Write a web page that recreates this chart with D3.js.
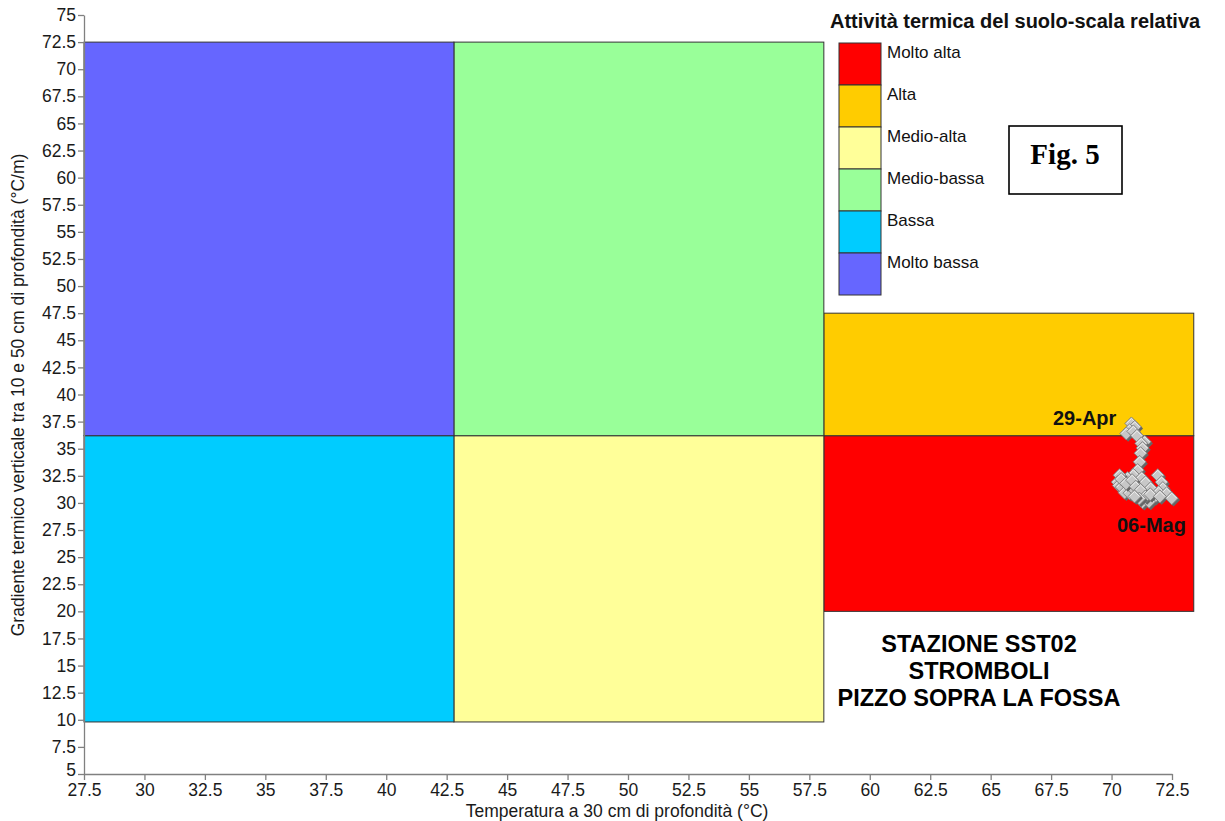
<!DOCTYPE html>
<html>
<head>
<meta charset="utf-8">
<script src="https://cdn.jsdelivr.net/npm/d3@7"></script>
<style>
  html, body { margin: 0; padding: 0; background: #ffffff; }
  svg { display: block; font-family: "Liberation Sans", Arial, sans-serif; }
</style>
</head>
<body>
<svg id="chart" width="1225" height="821"></svg>
<script>
// Activity zones (temperature range x gradient range)
const zoneNames  = ["Molto alta", "Alta", "Medio-alta", "Medio-bassa", "Bassa", "Molto bassa"];
const zoneColors = ["#FF0000", "#FFCC00", "#FFFF99", "#99FF99", "#00CCFF", "#6666FF"];
const zoneTempMin = [58.1, 58.1, 42.8, 42.8, 27.5, 27.5];
const zoneTempMax = [73.4, 73.4, 58.1, 58.1, 42.8, 42.8];
const zoneGradMin = [20.0, 36.2, 9.8, 36.2, 9.8, 36.2];
const zoneGradMax = [36.2, 47.5, 36.2, 72.5, 36.2, 72.5];

// Station readings, 29-Apr to 06-Mag (temperature at 30 cm, gradient 10-50 cm)
const tempValues = [70.82, 70.96, 70.75, 70.61, 70.90, 71.05, 71.37, 71.23, 71.28, 71.20,
                    71.16, 71.08, 70.90, 70.66, 70.33, 70.25, 70.30, 70.42, 70.54, 70.74,
                    70.82, 70.95, 71.08, 71.10, 71.25, 71.37, 71.28, 71.49, 71.41, 71.62,
                    71.78, 71.55, 71.91, 72.07, 72.12, 71.95, 72.28, 70.40, 70.60, 70.85,
                    71.00, 71.20, 71.40, 71.60, 71.15, 70.95, 72.00, 72.49];
const gradValues = [37.33, 37.02, 36.72, 36.41, 36.60, 36.20, 35.64, 35.49, 35.06, 34.59,
                    33.79, 33.03, 32.60, 32.29, 32.56, 31.92, 31.60, 31.46, 30.95, 30.90,
                    31.64, 31.18, 30.72, 31.90, 32.30, 30.90, 30.07, 30.44, 31.92, 31.37,
                    30.53, 30.10, 32.56, 31.92, 31.37, 31.00, 30.90, 32.20, 31.80, 32.10,
                    31.50, 31.20, 30.60, 30.80, 30.40, 30.60, 30.60, 30.44];

const xTicks = d3.range(27.5, 72.51, 2.5);
const yTicks = d3.range(5, 75.01, 2.5);

const xTitle = "Temperatura a 30 cm di profondità (°C)";
const yTitle = "Gradiente termico verticale tra 10 e 50 cm di profondità (°C/m)";
const legendTitle = "Attività termica del suolo-scala relativa";
const stationLines = ["STAZIONE SST02", "STROMBOLI", "PIZZO SOPRA LA FOSSA"];
const firstLabel = "29-Apr";
const lastLabel = "06-Mag";

const svg = d3.select("#chart");
const x = d3.scaleLinear().domain([27.5, 72.5]).range([84, 1172]);
const y = d3.scaleLinear().domain([5, 75]).range([774, 15]);
const fmt = d => (Math.round(d * 10) / 10).toString();

// Zones
const zones = zoneNames.map((n, i) => ({
  name: n, color: zoneColors[i],
  x0: zoneTempMin[i], x1: zoneTempMax[i], y0: zoneGradMin[i], y1: zoneGradMax[i]
}));
svg.append("g").selectAll("rect").data(zones).join("rect")
  .attr("x", d => x(d.x0))
  .attr("y", d => y(d.y1))
  .attr("width", d => x(d.x1) - x(d.x0))
  .attr("height", d => y(d.y0) - y(d.y1))
  .attr("fill", d => d.color)
  .attr("stroke", "#333333")
  .attr("stroke-width", 1);

// Axes
const yAxis = svg.append("g").attr("transform", `translate(${x(27.5)},0)`)
  .call(d3.axisLeft(y).tickValues(yTicks).tickFormat(fmt).tickSize(6).tickSizeOuter(0).tickPadding(2));
const xAxis = svg.append("g").attr("transform", `translate(0,${y(5)})`)
  .call(d3.axisBottom(x).tickValues(xTicks).tickFormat(fmt).tickSize(6).tickSizeOuter(0).tickPadding(4));
[xAxis, yAxis].forEach(a => {
  a.select(".domain").attr("stroke", "#808080").attr("stroke-width", 1.3);
  a.selectAll(".tick line").attr("stroke", "#808080").attr("stroke-width", 1.3);
  a.selectAll(".tick text").attr("fill", "#1a1a1a")
    .style("font-size", "17.5px").style("font-family", "'Liberation Sans', Arial, sans-serif");
});
// lowest gradient label sits just above the corner
yAxis.selectAll(".tick text").filter(d => d === 5).attr("dy", "0.1em");

// Axis titles
svg.append("text").attr("x", 617).attr("y", 817).attr("text-anchor", "middle")
  .style("font-size", "17.5px").attr("fill", "#1a1a1a").text(xTitle);
svg.append("text").attr("transform", "translate(24,395) rotate(-90)").attr("text-anchor", "middle")
  .style("font-size", "17.5px").attr("fill", "#1a1a1a").text(yTitle);

// Readings
const pts = tempValues.map((t, i) => ({ t, g: gradValues[i] }));
const r = 6.5;
const diamond = `M0,${-r} L${r},0 L0,${r} L${-r},0 Z`;
const mk = svg.append("g").selectAll("g").data(pts).join("g")
  .attr("transform", d => `translate(${x(d.t)},${y(d.g)})`);
mk.append("path").attr("d", diamond).attr("transform", "translate(1.8,1.8)").attr("fill", "#666666");
mk.append("path").attr("d", diamond).attr("fill", "#c8c8c8").attr("stroke", "#7a7a7a").attr("stroke-width", 0.8);
mk.append("path").attr("d", `M${-r + 1.6},0 L0,${-r + 1.6} L${r - 1.6},0`).attr("fill", "none")
  .attr("stroke", "#eeeeee").attr("stroke-width", 1);

// Date labels
svg.append("text").attr("x", 1053).attr("y", 425).style("font-size", "20px").style("font-weight", "bold")
  .attr("fill", "#111").text(firstLabel);
svg.append("text").attr("x", 1117).attr("y", 532).style("font-size", "20px").style("font-weight", "bold")
  .attr("fill", "#111").text(lastLabel);

// Legend
svg.append("text").attr("x", 830).attr("y", 28).style("font-size", "20px").style("font-weight", "bold")
  .attr("fill", "#111").text(legendTitle);
const lg = svg.append("g").selectAll("g").data(zones).join("g")
  .attr("transform", (d, i) => `translate(839,${43 + i * 42})`);
lg.append("rect").attr("width", 42).attr("height", 42).attr("fill", d => d.color)
  .attr("stroke", "#333333").attr("stroke-width", 1);
lg.append("text").attr("x", 48).attr("y", 15).style("font-size", "17px").attr("fill", "#111")
  .text(d => d.name);

// Figure tag
svg.append("rect").attr("x", 1009).attr("y", 126).attr("width", 113).attr("height", 68)
  .attr("fill", "#ffffff").attr("stroke", "#000").attr("stroke-width", 1.6);
svg.append("text").attr("x", 1065).attr("y", 164).attr("text-anchor", "middle")
  .style("font-family", "'Liberation Serif', 'Times New Roman', serif")
  .style("font-size", "29px").style("font-weight", "bold").attr("fill", "#000").text("Fig. 5");

// Station name
svg.append("g").selectAll("text").data(stationLines).join("text")
  .attr("x", 979).attr("y", (d, i) => 652 + i * 27).attr("text-anchor", "middle")
  .style("font-size", "23.5px").style("font-weight", "bold").attr("fill", "#000").text(d => d);
</script>
</body>
</html>
